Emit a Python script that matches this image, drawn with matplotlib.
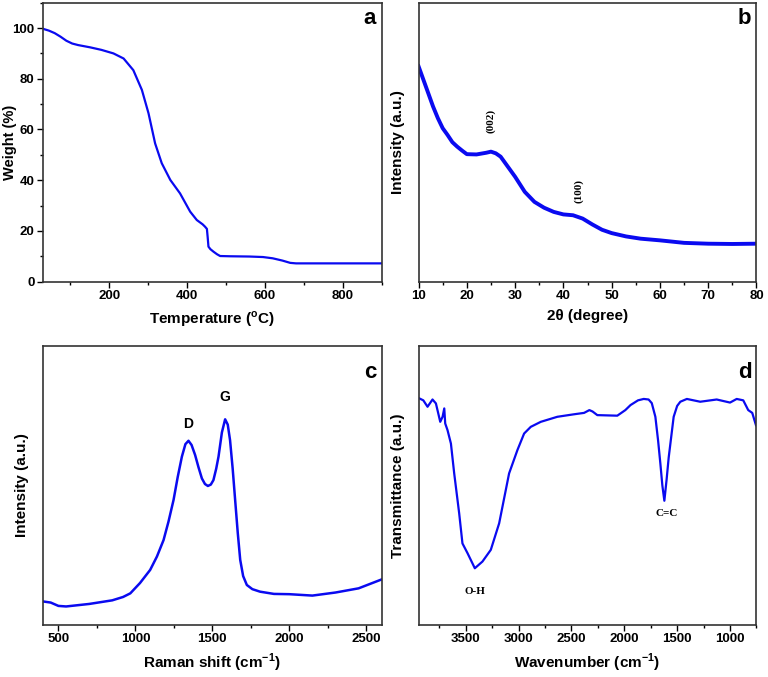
import numpy as np
import matplotlib.pyplot as plt
from matplotlib.ticker import MultipleLocator

# (a) TGA
tga_temp = [30, 45, 60, 75, 90, 105, 120, 151, 180, 211, 237, 262, 284, 301, 318,
            335, 357, 382, 408, 425, 440, 446, 451, 453, 455, 460, 468, 477, 485,
            511, 560, 595, 620, 645, 665, 680, 900]
tga_weight = [99.7, 99.0, 98.0, 96.6, 95.0, 93.9, 93.3, 92.4, 91.4, 90.0, 88.0, 83.4,
              75.6, 66.4, 54.5, 46.7, 40.1, 34.8, 27.6, 24.3, 22.6, 21.7, 20.8, 17.5,
              13.8, 12.8, 11.8, 10.8, 10.1, 10.0, 9.9, 9.7, 9.2, 8.3, 7.4, 7.2, 7.2]

# (b) XRD
xrd_2theta = [10, 11, 12, 13, 14, 15, 16, 17, 18, 19, 20, 22, 24, 25, 26, 27, 28, 30,
              32, 34, 36, 38, 40, 42, 44, 46, 48, 50, 53, 56, 60, 65, 70, 75, 80]
xrd_int = [0.772, 0.724, 0.676, 0.628, 0.586, 0.55, 0.526, 0.50, 0.484, 0.47, 0.457,
           0.456, 0.462, 0.466, 0.46, 0.448, 0.424, 0.376, 0.322, 0.286, 0.265, 0.25,
           0.241, 0.238, 0.226, 0.205, 0.186, 0.174, 0.162, 0.154, 0.148, 0.139,
           0.136, 0.135, 0.136]

# (c) Raman
raman_shift = [400, 450, 500, 550, 700, 850, 920, 967, 1030, 1096, 1140, 1183, 1215,
               1248, 1275, 1302, 1325, 1345, 1365, 1388, 1410, 1432, 1452, 1471, 1490,
               1507, 1525, 1540, 1562, 1583, 1600, 1615, 1632, 1648, 1665, 1681, 1700,
               1724, 1760, 1810, 1900, 2000, 2150, 2300, 2450, 2600]
raman_int = [0.084, 0.08, 0.068, 0.066, 0.075, 0.088, 0.10, 0.113, 0.15, 0.197, 0.245,
             0.304, 0.37, 0.448, 0.53, 0.603, 0.648, 0.66, 0.645, 0.609, 0.565, 0.525,
             0.505, 0.498, 0.503, 0.519, 0.56, 0.603, 0.69, 0.737, 0.718, 0.662, 0.56,
             0.448, 0.33, 0.233, 0.175, 0.143, 0.128, 0.119, 0.111, 0.11, 0.105, 0.116,
             0.131, 0.163]

# (d) FTIR
ftir_wn = [3938, 3900, 3860, 3813, 3781, 3740, 3718, 3702, 3693, 3671, 3639, 3608,
           3561, 3530, 3482, 3413, 3341, 3262, 3183, 3089, 3010, 2947, 2884, 2789,
           2633, 2475, 2380, 2330, 2300, 2255, 2066, 1990, 1941, 1870, 1816, 1770,
           1740, 1706, 1680, 1659, 1640, 1621, 1600, 1580, 1533, 1500, 1470, 1408,
           1282, 1126, 1000, 937, 875, 828, 790, 755]
ftir_t = [0.812, 0.805, 0.782, 0.808, 0.794, 0.728, 0.746, 0.776, 0.722, 0.698, 0.650,
          0.543, 0.40, 0.292, 0.257, 0.203, 0.227, 0.269, 0.364, 0.543, 0.627, 0.686,
          0.710, 0.728, 0.746, 0.755, 0.76, 0.77, 0.765, 0.752, 0.75, 0.77, 0.788,
          0.805, 0.81, 0.808, 0.795, 0.746, 0.66, 0.579, 0.50, 0.445, 0.52, 0.60,
          0.746, 0.785, 0.80, 0.81, 0.80, 0.808, 0.797, 0.81, 0.805, 0.77, 0.76, 0.716]

blue = '#0a0af0'
fig = plt.figure(figsize=(7.68, 6.77), dpi=100)
ax_a = fig.add_axes([0.056, 0.584, 0.441, 0.412])
ax_b = fig.add_axes([0.545, 0.584, 0.440, 0.412])
ax_c = fig.add_axes([0.056, 0.077, 0.441, 0.412])
ax_d = fig.add_axes([0.545, 0.077, 0.440, 0.412])

sans = 'Liberation Sans'
lab = dict(fontsize=11, fontweight='bold', family=sans)
serif = dict(family='Liberation Serif', fontsize=8, fontweight='bold')
corner = dict(fontsize=16, fontweight='bold', family=sans, ha='center', va='center')

for ax in (ax_a, ax_b, ax_c, ax_d):
    for s in ax.spines.values():
        s.set_color('#333333')
        s.set_linewidth(1.2)
    ax.tick_params(direction='out', length=4, width=1, pad=2, labelsize=9.5)
    ax.tick_params(which='minor', direction='out', length=2.5, width=1)

ax_a.plot(tga_temp, tga_weight, color=blue, lw=1.6)
ax_a.set_xlim(30, 900)
ax_a.set_ylim(0, 110)
ax_a.xaxis.set_major_locator(MultipleLocator(200))
ax_a.xaxis.set_minor_locator(MultipleLocator(100))
ax_a.yaxis.set_major_locator(MultipleLocator(20))
ax_a.yaxis.set_minor_locator(MultipleLocator(10))
ax_a.set_xlabel('Temperature ($^{\\mathregular{o}}$C)', labelpad=5, **lab)
# y label placed on the figure so it stays inside the left edge
fig.text(0.004, 0.79, 'Weight (%)', rotation=90, ha='left', va='center',
         fontsize=10.5, fontweight='bold', family=sans)
ax_a.text(0.965, 0.945, 'a', transform=ax_a.transAxes, **corner)

ax_b.plot(xrd_2theta, xrd_int, color=blue, lw=2.8)
ax_b.set_xlim(10, 80)
ax_b.set_ylim(0, 1)
ax_b.set_yticks([])
ax_b.xaxis.set_major_locator(MultipleLocator(10))
ax_b.xaxis.set_minor_locator(MultipleLocator(5))
ax_b.set_xlabel('2θ (degree)', labelpad=5, **lab)
ax_b.set_ylabel('Intensity (a.u.)', labelpad=10, **lab)
ax_b.text(25, 0.577, '(002)', rotation=90, ha='center', va='center', **serif)
ax_b.text(43.2, 0.325, '(100)', rotation=90, ha='center', va='center', **serif)
ax_b.text(0.965, 0.945, 'b', transform=ax_b.transAxes, **corner)

ax_c.plot(raman_shift, raman_int, color=blue, lw=1.8)
ax_c.set_xlim(400, 2600)
ax_c.set_ylim(0, 1)
ax_c.set_yticks([])
ax_c.xaxis.set_major_locator(MultipleLocator(500))
ax_c.xaxis.set_minor_locator(MultipleLocator(250))
ax_c.set_xlabel('Raman shift (cm$^{\\mathregular{-1}}$)', labelpad=5, **lab)
ax_c.set_ylabel('Intensity (a.u.)', labelpad=10, **lab)
ax_c.text(1345, 0.72, 'D', ha='center', va='center', fontsize=10,
          fontweight='bold', family=sans)
ax_c.text(1583, 0.817, 'G', ha='center', va='center', fontsize=10,
          fontweight='bold', family=sans)
ax_c.text(0.965, 0.905, 'c', transform=ax_c.transAxes, **corner)

ax_d.plot(ftir_wn, ftir_t, color=blue, lw=1.6)
ax_d.set_xlim(3945, 750)
ax_d.set_ylim(0, 1)
ax_d.set_yticks([])
ax_d.xaxis.set_major_locator(MultipleLocator(500))
ax_d.xaxis.set_minor_locator(MultipleLocator(250))
ax_d.set_xlabel('Wavenumber (cm$^{\\mathregular{-1}}$)', labelpad=5, **lab)
ax_d.set_ylabel('Transmittance (a.u.)', labelpad=10, **lab)
ax_d.text(3415, 0.12, 'O-H', ha='center', va='center', **serif)
ax_d.text(1602, 0.40, 'C=C', ha='center', va='center', **serif)
ax_d.text(0.965, 0.905, 'd', transform=ax_d.transAxes, **corner)

for ax in (ax_a, ax_b, ax_c, ax_d):
    for t in ax.get_xticklabels() + ax.get_yticklabels():
        t.set_fontweight('bold')
        t.set_family(sans)

fig.savefig('out.png', dpi=100)
